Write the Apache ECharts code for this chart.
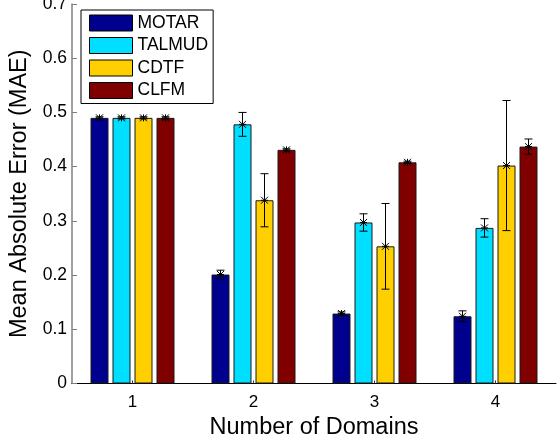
<!DOCTYPE html>
<html><head><meta charset="utf-8">
<script src="https://cdn.jsdelivr.net/npm/echarts@6/dist/echarts.min.js"></script>
<style>html,body{margin:0;padding:0;background:#fff}#c{width:557px;height:437px}</style>
</head><body><div id="c"></div>
<script>
var categories = ['1', '2', '3', '4'];
var seriesNames = ['MOTAR', 'TALMUD', 'CDTF', 'CLFM'];
var motar = [0.490, 0.201, 0.129, 0.124];
var motarErr = [0.002, 0.008, 0.003, 0.010];
var talmud = [0.490, 0.478, 0.297, 0.287];
var talmudErr = [0.002, 0.022, 0.016, 0.017];
var cdtf = [0.490, 0.338, 0.253, 0.402];
var cdtfErr = [0.002, 0.049, 0.079, 0.120];
var clfm = [0.490, 0.431, 0.408, 0.437];
var clfmErr = [0.002, 0.002, 0.002, 0.014];
var yTicks = [0, 0.1, 0.2, 0.3, 0.4, 0.5, 0.6, 0.7];

var values = [motar, talmud, cdtf, clfm];
var errs = [motarErr, talmudErr, cdtfErr, clfmErr];
var colors = ['#00008F', '#00DFFF', '#FFCF00', '#800000'];
var FONT = '"Liberation Sans", Arial, Helvetica, sans-serif';
var BAR_W = 18, BAR_GAP = 4;

var chart = echarts.init(document.getElementById('c'), null, {renderer: 'canvas'});
var series = [];
seriesNames.forEach(function (n, i) {
  series.push({
    name: n, type: 'bar', data: values[i],
    barWidth: BAR_W, barGap: (BAR_GAP / BAR_W * 100) + '%',
    itemStyle: {color: colors[i], borderColor: '#1a1a1a', borderWidth: 1},
    z: 2
  });
});
seriesNames.forEach(function (n, i) {
  var data = values[i].map(function (v, k) {
    return [k, v, v - errs[i][k], v + errs[i][k]];
  });
  var offset = (i - (seriesNames.length - 1) / 2) * (BAR_W + BAR_GAP);
  series.push({
    name: 'err-' + n, type: 'custom', z: 5,
    data: data,
    encode: {x: 0, y: [1, 2, 3]},
    renderItem: function (params, api) {
      var c = api.value(0);
      var m = api.coord([c, api.value(1)]);
      var lo = api.coord([c, api.value(2)]);
      var hi = api.coord([c, api.value(3)]);
      var x = m[0] + offset;
      var cap = 4, s = 3.5;
      var st = {stroke: '#000', lineWidth: 1, fill: null};
      return {type: 'group', children: [
        {type: 'line', shape: {x1: x, y1: hi[1], x2: x, y2: lo[1]}, style: st},
        {type: 'line', shape: {x1: x - cap, y1: hi[1], x2: x + cap, y2: hi[1]}, style: st},
        {type: 'line', shape: {x1: x - cap, y1: lo[1], x2: x + cap, y2: lo[1]}, style: st},
        {type: 'line', shape: {x1: x - s, y1: m[1] - s, x2: x + s, y2: m[1] + s}, style: st},
        {type: 'line', shape: {x1: x - s, y1: m[1] + s, x2: x + s, y2: m[1] - s}, style: st},
        {type: 'line', shape: {x1: x, y1: m[1] - s, x2: x, y2: m[1] + s}, style: st},
        {type: 'line', shape: {x1: x - s, y1: m[1], x2: x + s, y2: m[1]}, style: st}
      ]};
    }
  });
});

chart.setOption({
  animation: false,
  backgroundColor: '#fff',
  textStyle: {fontFamily: FONT},
  grid: {left: 72, right: 1, top: 4, bottom: 53.5, containLabel: false, outerBoundsMode: 'none'},
  legend: {
    data: seriesNames, orient: 'vertical', left: 81, top: 10,
    padding: [4, 5, 4, 8], itemWidth: 43, itemHeight: 16, itemGap: 4.5,
    backgroundColor: '#fff', borderColor: '#000', borderWidth: 1,
    icon: 'rect',
    itemStyle: {borderColor: '#000', borderWidth: 1},
    textStyle: {fontFamily: FONT, fontSize: 17.5, color: '#000'}
  },
  xAxis: {
    type: 'category', data: categories,
    name: 'Number of Domains', nameLocation: 'middle', nameGap: 25,
    nameTextStyle: {fontFamily: FONT, fontSize: 23.5, color: '#000'},
    axisLine: {show: true, lineStyle: {color: '#000', width: 1}},
    axisTick: {show: true, inside: true, length: 3, alignWithLabel: true, lineStyle: {color: '#333'}},
    axisLabel: {fontFamily: FONT, fontSize: 17, color: '#000', margin: 10},
    splitLine: {show: false}
  },
  yAxis: {
    type: 'value', min: yTicks[0], max: yTicks[yTicks.length - 1], interval: 0.1,
    name: 'Mean Absolute Error (MAE)', nameLocation: 'middle', nameGap: 37,
    nameTextStyle: {fontFamily: FONT, fontSize: 23.5, color: '#000'},
    axisLine: {show: true, lineStyle: {color: '#808080', width: 1.5}},
    axisTick: {show: true, inside: true, length: 5, lineStyle: {color: '#808080'}},
    axisLabel: {fontFamily: FONT, fontSize: 17.5, color: '#000', margin: 5,
      formatter: function (v) { return v === 0 ? '0' : v.toFixed(1); }},
    splitLine: {show: false}
  },
  series: series
});
</script></body></html>
